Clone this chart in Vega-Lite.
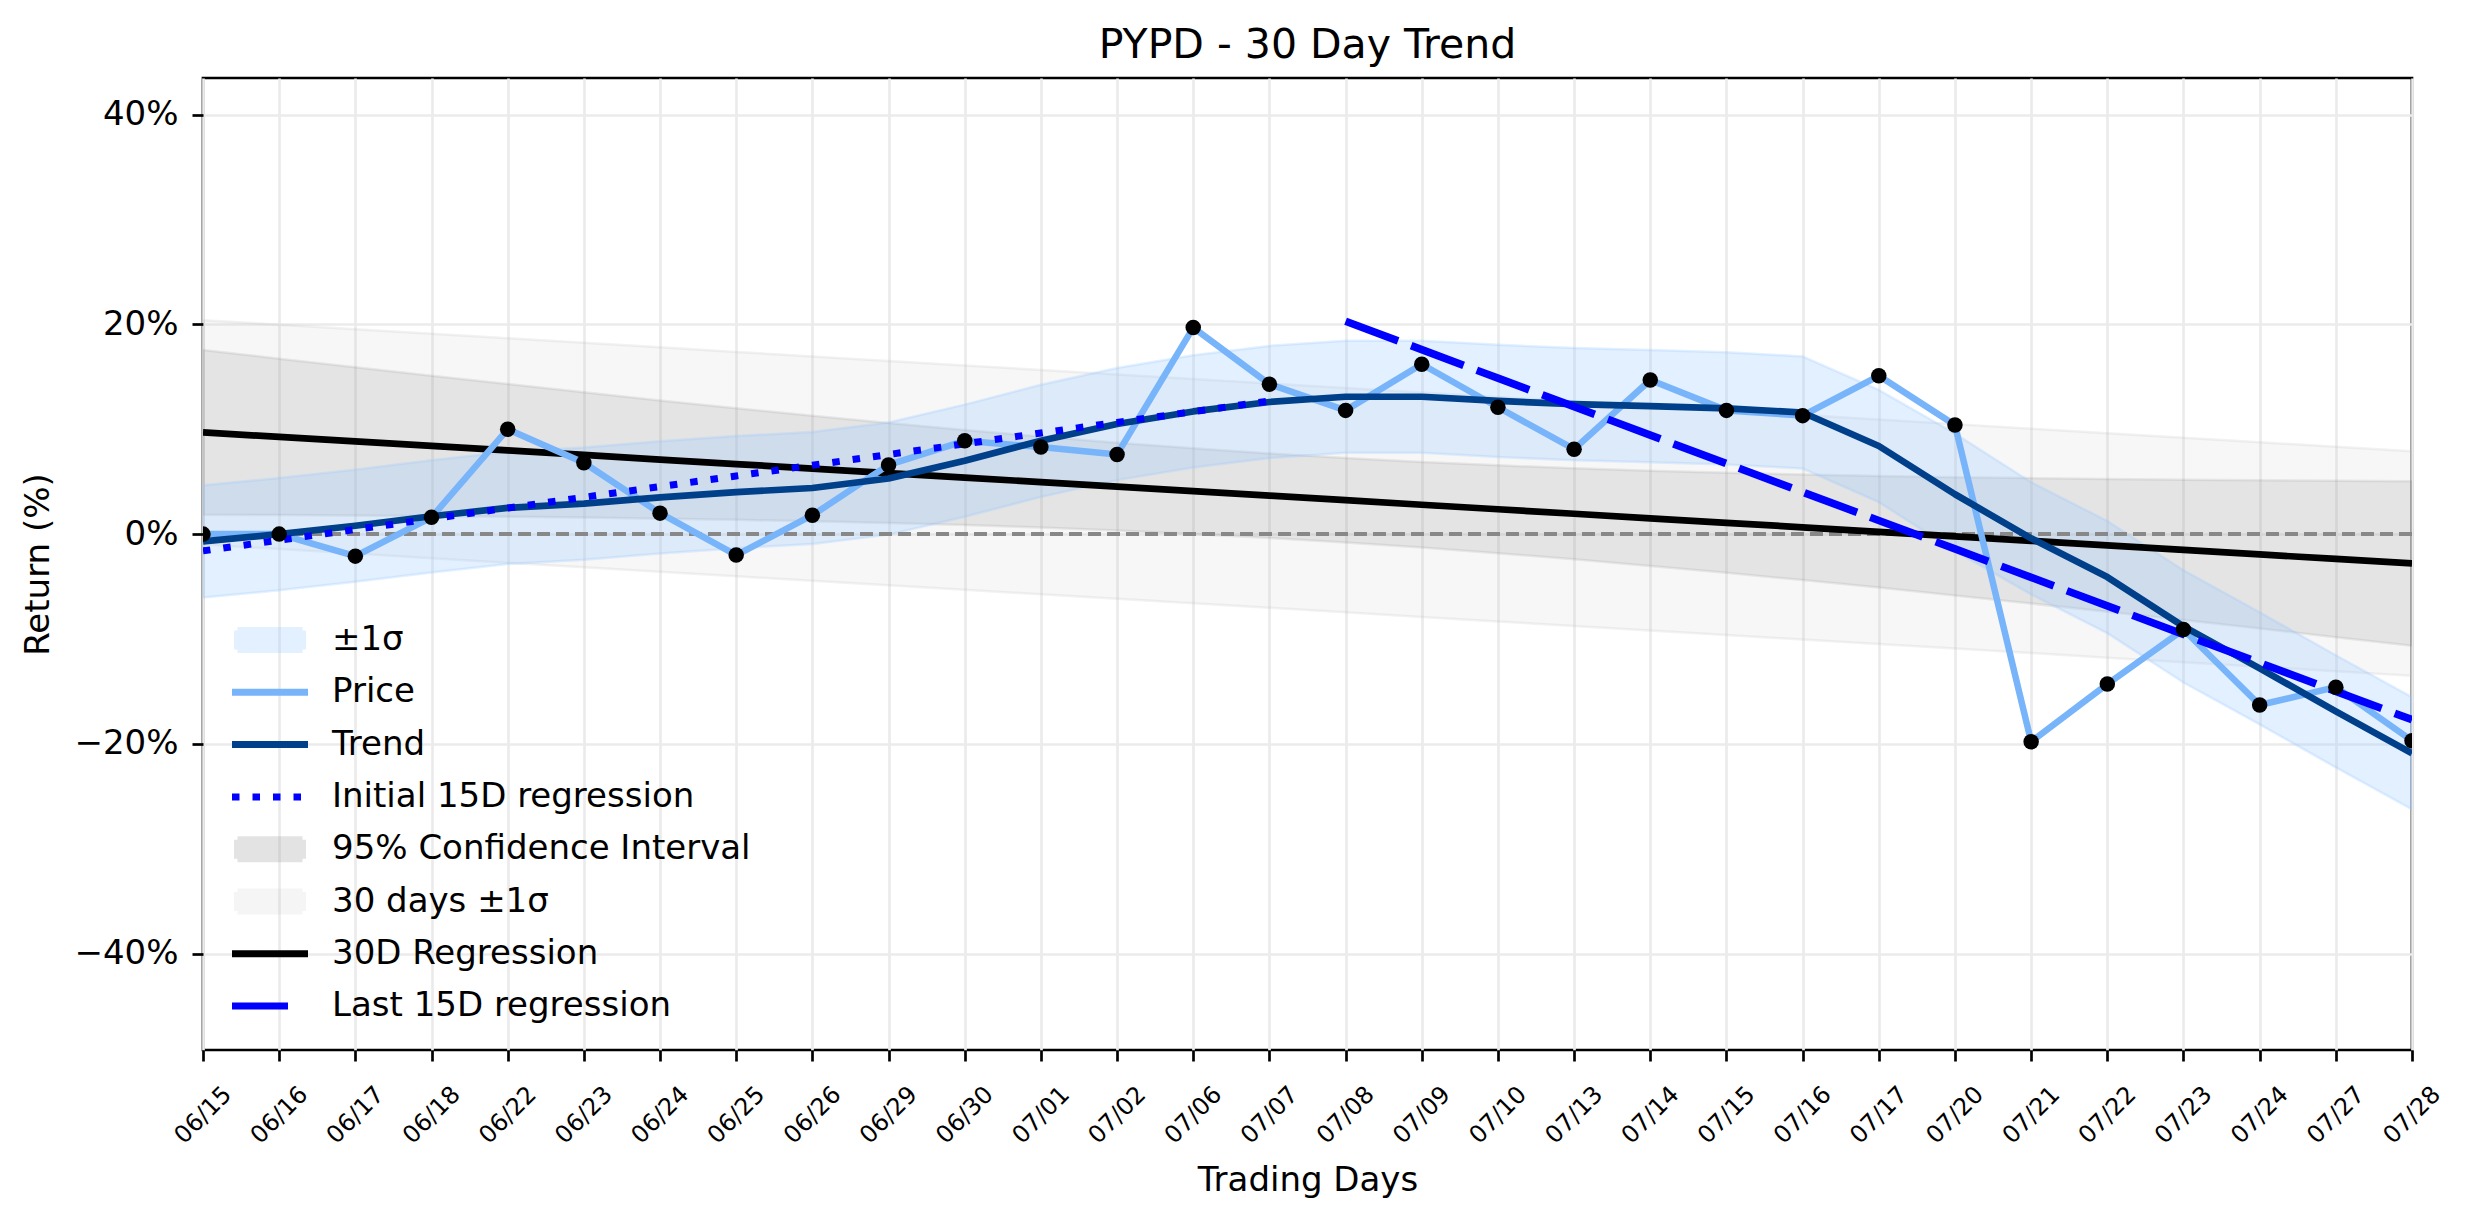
{
  "$schema": "https://vega.github.io/schema/vega-lite/v6.json",
  "width": 2209,
  "height": 972,
  "autosize": {"type": "none"},
  "padding": {"left": 203, "top": 78, "right": 62, "bottom": 174},
  "background": "white",
  "title": {
    "text": "PYPD - 30 Day Trend",
    "font": "DejaVu Sans",
    "fontSize": 41,
    "fontWeight": "normal",
    "color": "black",
    "anchor": "middle",
    "offset": 11
  },
  "config": {
    "font": "DejaVu Sans",
    "view": {"stroke": "black", "strokeWidth": 2.7},
    "axis": {
      "labelColor": "black",
      "titleColor": "black",
      "titleFontWeight": "normal",
      "tickColor": "black",
      "tickWidth": 2.7,
      "tickSize": 11,
      "domain": false,
      "grid": true,
      "gridColor": "#ebebeb",
      "gridWidth": 2.7
    }
  },
  "data": {
    "values": [
      {"d": "06/15", "price": 0.0, "trend": -0.7, "sig_lo": -6.05, "sig_hi": 4.65, "reg30": 9.70, "ci_lo": 1.85, "ci_hi": 17.55, "hs_lo": -1.00, "hs_hi": 20.40, "reg_a": -1.60},
      {"d": "06/16", "price": 0.0, "trend": 0.0, "sig_lo": -5.35, "sig_hi": 5.35, "reg30": 9.27, "ci_lo": 1.82, "ci_hi": 16.73, "hs_lo": -1.43, "hs_hi": 19.97, "reg_a": -0.58},
      {"d": "06/17", "price": -2.1, "trend": 0.8, "sig_lo": -4.55, "sig_hi": 6.15, "reg30": 8.84, "ci_lo": 1.77, "ci_hi": 15.91, "hs_lo": -1.86, "hs_hi": 19.54, "reg_a": 0.44},
      {"d": "06/18", "price": 1.6, "trend": 1.7, "sig_lo": -3.65, "sig_hi": 7.05, "reg30": 8.41, "ci_lo": 1.72, "ci_hi": 15.10, "hs_lo": -2.29, "hs_hi": 19.11, "reg_a": 1.46},
      {"d": "06/22", "price": 10.0, "trend": 2.5, "sig_lo": -2.85, "sig_hi": 7.85, "reg30": 7.98, "ci_lo": 1.65, "ci_hi": 14.31, "hs_lo": -2.72, "hs_hi": 18.68, "reg_a": 2.49},
      {"d": "06/23", "price": 6.8, "trend": 2.9, "sig_lo": -2.45, "sig_hi": 8.25, "reg30": 7.55, "ci_lo": 1.58, "ci_hi": 13.53, "hs_lo": -3.15, "hs_hi": 18.25, "reg_a": 3.51},
      {"d": "06/24", "price": 2.0, "trend": 3.5, "sig_lo": -1.85, "sig_hi": 8.85, "reg30": 7.11, "ci_lo": 1.47, "ci_hi": 12.75, "hs_lo": -3.59, "hs_hi": 17.81, "reg_a": 4.53},
      {"d": "06/25", "price": -2.0, "trend": 4.0, "sig_lo": -1.35, "sig_hi": 9.35, "reg30": 6.68, "ci_lo": 1.36, "ci_hi": 12.00, "hs_lo": -4.02, "hs_hi": 17.38, "reg_a": 5.55},
      {"d": "06/26", "price": 1.8, "trend": 4.4, "sig_lo": -0.95, "sig_hi": 9.75, "reg30": 6.25, "ci_lo": 1.22, "ci_hi": 11.28, "hs_lo": -4.45, "hs_hi": 16.95, "reg_a": 6.57},
      {"d": "06/29", "price": 6.6, "trend": 5.3, "sig_lo": -0.05, "sig_hi": 10.65, "reg30": 5.82, "ci_lo": 1.05, "ci_hi": 10.59, "hs_lo": -4.88, "hs_hi": 16.52, "reg_a": 7.59},
      {"d": "06/30", "price": 8.9, "trend": 7.0, "sig_lo": 1.65, "sig_hi": 12.35, "reg30": 5.39, "ci_lo": 0.86, "ci_hi": 9.93, "hs_lo": -5.31, "hs_hi": 16.09, "reg_a": 8.61},
      {"d": "07/01", "price": 8.3, "trend": 8.9, "sig_lo": 3.55, "sig_hi": 14.25, "reg30": 4.96, "ci_lo": 0.62, "ci_hi": 9.30, "hs_lo": -5.74, "hs_hi": 15.66, "reg_a": 9.64},
      {"d": "07/02", "price": 7.6, "trend": 10.5, "sig_lo": 5.15, "sig_hi": 15.85, "reg30": 4.53, "ci_lo": 0.34, "ci_hi": 8.72, "hs_lo": -6.17, "hs_hi": 15.23, "reg_a": 10.66},
      {"d": "07/06", "price": 19.7, "trend": 11.7, "sig_lo": 6.35, "sig_hi": 17.05, "reg30": 4.10, "ci_lo": 0.02, "ci_hi": 8.18, "hs_lo": -6.60, "hs_hi": 14.80, "reg_a": 11.68},
      {"d": "07/07", "price": 14.3, "trend": 12.6, "sig_lo": 7.25, "sig_hi": 17.95, "reg30": 3.67, "ci_lo": -0.36, "ci_hi": 7.70, "hs_lo": -7.03, "hs_hi": 14.37, "reg_a": 12.70},
      {"d": "07/08", "price": 11.8, "trend": 13.1, "sig_lo": 7.75, "sig_hi": 18.45, "reg30": 3.24, "ci_lo": -0.79, "ci_hi": 7.27, "hs_lo": -7.46, "hs_hi": 13.94, "reg_b": 20.30},
      {"d": "07/09", "price": 16.2, "trend": 13.1, "sig_lo": 7.75, "sig_hi": 18.45, "reg30": 2.80, "ci_lo": -1.28, "ci_hi": 6.88, "hs_lo": -7.90, "hs_hi": 13.50, "reg_b": 17.59},
      {"d": "07/10", "price": 12.1, "trend": 12.7, "sig_lo": 7.35, "sig_hi": 18.05, "reg30": 2.37, "ci_lo": -1.82, "ci_hi": 6.56, "hs_lo": -8.33, "hs_hi": 13.07, "reg_b": 14.87},
      {"d": "07/13", "price": 8.1, "trend": 12.4, "sig_lo": 7.05, "sig_hi": 17.75, "reg30": 1.94, "ci_lo": -2.40, "ci_hi": 6.28, "hs_lo": -8.76, "hs_hi": 12.64, "reg_b": 12.16},
      {"d": "07/14", "price": 14.7, "trend": 12.2, "sig_lo": 6.85, "sig_hi": 17.55, "reg30": 1.51, "ci_lo": -3.03, "ci_hi": 6.05, "hs_lo": -9.19, "hs_hi": 12.21, "reg_b": 9.44},
      {"d": "07/15", "price": 11.8, "trend": 12.0, "sig_lo": 6.65, "sig_hi": 17.35, "reg30": 1.08, "ci_lo": -3.69, "ci_hi": 5.85, "hs_lo": -9.62, "hs_hi": 11.78, "reg_b": 6.73},
      {"d": "07/16", "price": 11.3, "trend": 11.6, "sig_lo": 6.25, "sig_hi": 16.95, "reg30": 0.65, "ci_lo": -4.38, "ci_hi": 5.68, "hs_lo": -10.05, "hs_hi": 11.35, "reg_b": 4.01},
      {"d": "07/17", "price": 15.1, "trend": 8.4, "sig_lo": 3.05, "sig_hi": 13.75, "reg30": 0.22, "ci_lo": -5.10, "ci_hi": 5.54, "hs_lo": -10.48, "hs_hi": 10.92, "reg_b": 1.30},
      {"d": "07/20", "price": 10.4, "trend": 3.8, "sig_lo": -1.6, "sig_hi": 9.6, "reg30": -0.21, "ci_lo": -5.85, "ci_hi": 5.43, "hs_lo": -10.91, "hs_hi": 10.49, "reg_b": -1.41},
      {"d": "07/21", "price": -19.8, "trend": -0.4, "sig_lo": -5.75, "sig_hi": 4.95, "reg30": -0.64, "ci_lo": -6.62, "ci_hi": 5.34, "hs_lo": -11.34, "hs_hi": 10.06, "reg_b": -4.13},
      {"d": "07/22", "price": -14.3, "trend": -4.1, "sig_lo": -9.45, "sig_hi": 1.25, "reg30": -1.08, "ci_lo": -7.41, "ci_hi": 5.25, "hs_lo": -11.78, "hs_hi": 9.62, "reg_b": -6.84},
      {"d": "07/23", "price": -9.1, "trend": -8.8, "sig_lo": -14.15, "sig_hi": -3.45, "reg30": -1.51, "ci_lo": -8.20, "ci_hi": 5.18, "hs_lo": -12.21, "hs_hi": 9.19, "reg_b": -9.56},
      {"d": "07/24", "price": -16.3, "trend": -12.8, "sig_lo": -18.15, "sig_hi": -7.45, "reg30": -1.94, "ci_lo": -9.01, "ci_hi": 5.13, "hs_lo": -12.64, "hs_hi": 8.76, "reg_b": -12.27},
      {"d": "07/27", "price": -14.6, "trend": -16.9, "sig_lo": -22.25, "sig_hi": -11.55, "reg30": -2.37, "ci_lo": -9.83, "ci_hi": 5.09, "hs_lo": -13.07, "hs_hi": 8.33, "reg_b": -14.99},
      {"d": "07/28", "price": -19.7, "trend": -20.9, "sig_lo": -26.25, "sig_hi": -15.55, "reg30": -2.80, "ci_lo": -10.65, "ci_hi": 5.05, "hs_lo": -13.50, "hs_hi": 7.90, "reg_b": -17.70}
    ]
  },
  "layer": [
    {
      "mark": {"type": "area", "fillOpacity": 0.13, "stroke": "#c0c0c0", "strokeOpacity": 0.2, "strokeWidth": 2.5, "clip": true},
      "encoding": {
        "x": {
          "field": "d",
          "type": "ordinal",
          "scale": {
            "type": "point",
            "padding": 0,
            "domain": ["06/15", "06/16", "06/17", "06/18", "06/22", "06/23", "06/24", "06/25", "06/26", "06/29", "06/30", "07/01", "07/02", "07/06", "07/07", "07/08", "07/09", "07/10", "07/13", "07/14", "07/15", "07/16", "07/17", "07/20", "07/21", "07/22", "07/23", "07/24", "07/27", "07/28"]
          },
          "axis": {
            "title": "Trading Days",
            "titleFontSize": 34,
            "titleX": 1104.5,
            "titleY": 130,
            "titleBaseline": "middle",
            "labelAngle": -45,
            "labelAlign": "center",
            "labelBaseline": "middle",
            "labelPadding": 54,
            "labelFontSize": 24,
            "labelOverlap": false
          }
        },
        "y": {
          "field": "hs_lo",
          "type": "quantitative",
          "title": "Return (%)",
          "scale": {"domain": [-49.2, 43.5], "nice": false, "zero": false},
          "axis": {
            "values": [-40, -20, 0, 20, 40],
            "labelExpr": "format(datum.value, 'd') + '%'",
            "labelFontSize": 34,
            "labelPadding": 14,
            "titleFontSize": 34,
            "titleAngle": -90,
            "titleX": -165,
            "titleY": 486,
            "titleAlign": "center",
            "titleBaseline": "middle"
          }
        },
        "y2": {"field": "hs_hi"},
        "color": {
          "datum": "30 days ±1σ",
          "scale": {
            "domain": ["±1σ", "Price", "Trend", "Initial 15D regression", "95% Confidence Interval", "30 days ±1σ", "30D Regression", "Last 15D regression"],
            "range": ["#99c9ff", "#78b4fa", "#003f8a", "#0000ff", "#808080", "#c0c0c0", "#000000", "#0000ff"]
          },
          "legend": {
            "title": null,
            "orient": "none",
            "legendX": 29,
            "legendY": 545,
            "padding": 0,
            "labelFont": "DejaVu Sans",
            "labelFontSize": 34,
            "labelColor": "black",
            "labelLimit": 800,
            "labelOffset": 45,
            "rowPadding": 4.3,
            "symbolSize": 400,
            "symbolStrokeWidth": 7,
            "symbolOffset": 21,
            "symbolType": {"expr": "indexof(['±1σ', '95% Confidence Interval', '30 days ±1σ'], datum.value) >= 0 ? 'M-3.25,-0.95L3.25,-0.95L3.25,0.95L-3.25,0.95Z' : 'M-3.8,0L3.8,0M0,-0.95L0,-0.95M0,0.95L0,0.95'"},
            "symbolOpacity": {"expr": "datum.value === '±1σ' ? 0.27 : datum.value === '95% Confidence Interval' ? 0.21 : datum.value === '30 days ±1σ' ? 0.15 : 1"},
            "symbolDash": {"expr": "datum.value === 'Initial 15D regression' ? [7.5, 13] : datum.value === 'Last 15D regression' ? [56, 30] : [1, 0]"}
          }
        }
      }
    },
    {
      "mark": {"type": "area", "fillOpacity": 0.16, "stroke": "#808080", "strokeOpacity": 0.14, "strokeWidth": 2.5, "clip": true},
      "encoding": {
        "x": {"field": "d", "type": "ordinal"},
        "y": {"field": "ci_lo", "type": "quantitative", "title": "Return (%)"},
        "y2": {"field": "ci_hi"},
        "color": {"datum": "95% Confidence Interval"}
      }
    },
    {
      "mark": {"type": "area", "fillOpacity": 0.27, "stroke": "#99c9ff", "strokeOpacity": 0.27, "strokeWidth": 2.5, "clip": true},
      "encoding": {
        "x": {"field": "d", "type": "ordinal"},
        "y": {"field": "sig_lo", "type": "quantitative", "title": "Return (%)"},
        "y2": {"field": "sig_hi"},
        "color": {"datum": "±1σ"}
      }
    },
    {
      "mark": {"type": "rule", "color": "#888888", "strokeWidth": 3, "strokeDash": [13, 6]},
      "encoding": {"y": {"datum": 0}}
    },
    {
      "mark": {"type": "line", "strokeWidth": 6.7, "clip": true},
      "encoding": {
        "x": {"field": "d", "type": "ordinal"},
        "y": {"field": "reg30", "type": "quantitative", "title": "Return (%)"},
        "color": {"datum": "30D Regression"}
      }
    },
    {
      "mark": {"type": "line", "strokeWidth": 6.5, "strokeJoin": "round", "clip": true},
      "encoding": {
        "x": {"field": "d", "type": "ordinal"},
        "y": {"field": "price", "type": "quantitative", "title": "Return (%)"},
        "color": {"datum": "Price"}
      }
    },
    {
      "mark": {"type": "line", "strokeWidth": 6.7, "strokeJoin": "round", "clip": true},
      "encoding": {
        "x": {"field": "d", "type": "ordinal"},
        "y": {"field": "trend", "type": "quantitative", "title": "Return (%)"},
        "color": {"datum": "Trend"}
      }
    },
    {
      "mark": {"type": "line", "strokeWidth": 7, "strokeCap": "butt", "strokeDash": [7.5, 13], "clip": true},
      "encoding": {
        "x": {"field": "d", "type": "ordinal"},
        "y": {"field": "reg_a", "type": "quantitative", "title": "Return (%)"},
        "color": {"datum": "Initial 15D regression"}
      }
    },
    {
      "mark": {"type": "line", "strokeWidth": 7.7, "strokeCap": "butt", "strokeDash": [56, 14], "clip": true},
      "encoding": {
        "x": {"field": "d", "type": "ordinal"},
        "y": {"field": "reg_b", "type": "quantitative", "title": "Return (%)"},
        "color": {"datum": "Last 15D regression"}
      }
    },
    {
      "mark": {"type": "circle", "size": 240, "color": "black", "opacity": 1, "clip": true},
      "encoding": {
        "x": {"field": "d", "type": "ordinal"},
        "y": {"field": "price", "type": "quantitative", "title": "Return (%)"}
      }
    }
  ]
}
